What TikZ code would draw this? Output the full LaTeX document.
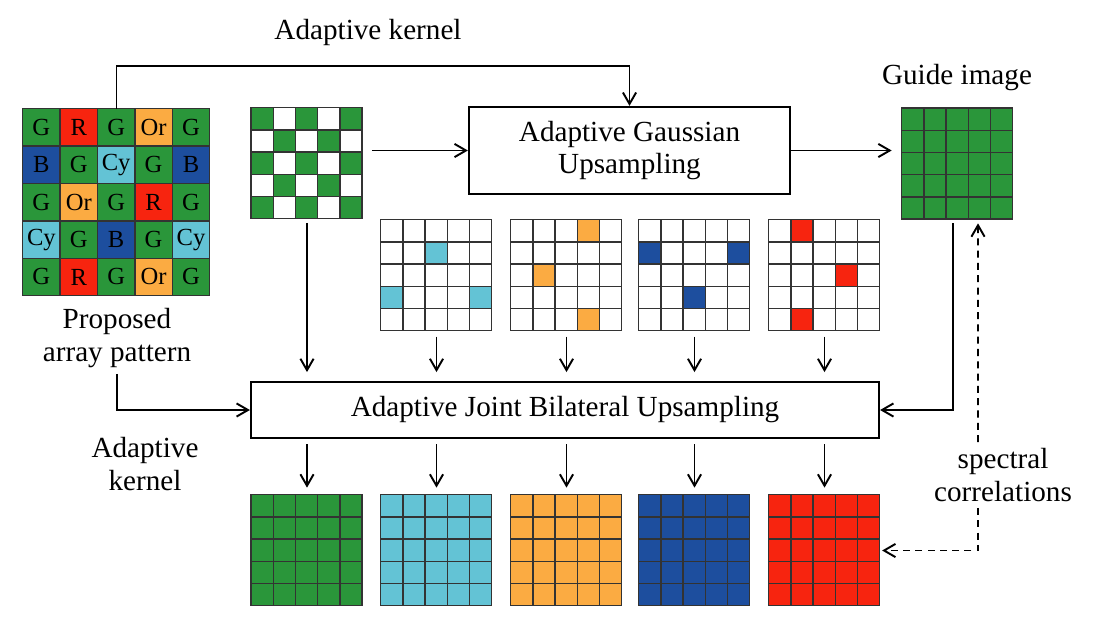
\documentclass[tikz,border=0pt]{standalone}
\usepackage{fontspec}
\setmainfont{Liberation Serif}
\usetikzlibrary{arrows.meta, positioning, calc}
\definecolor{cG}{HTML}{2A963A}
\definecolor{cR}{HTML}{F7240F}
\definecolor{cOr}{HTML}{FBAB42}
\definecolor{cCy}{HTML}{63C3D5}
\definecolor{cB}{HTML}{1D4E9E}
\newcommand{\cellgrid}[3]{%
  \foreach \r in {0,...,4}{\foreach \c in {0,...,4}{%
    \draw[cell, fill=#3] ($(#1.north west)+(\c*#2,\r*#2)$) rectangle +(#2,#2);}}}
\newcommand{\hilite}[4]{%
  \foreach \c/\r in {#4}{%
    \draw[cell, fill=#3] ($(#1.north west)+(\c*#2,\r*#2)$) rectangle +(#2,#2);}}

\begin{document}
\begin{tikzpicture}[
  x=0.02cm, y=-0.02cm,
  proc/.style={draw, line width=1.3pt, font=\fontsize{16.6}{18.7}\selectfont,
    align=center, inner sep=0pt},
  lbl/.style={font=\fontsize{16.6}{18.7}\selectfont, align=center},
  cell/.style={draw=black!80, line width=0.8pt},
  gridbox/.style={minimum width=2.22cm, minimum height=2.22cm, inner sep=0pt},
  flow/.style={-{Straight Barb[length=6.5pt, width=7.5pt]}, line width=1.1pt},
  corr/.style={flow, dashed, dash pattern=on 4pt off 3pt}
]
  \useasboundingbox (0,0) rectangle (1097,629);

  % proposed array
  \node[minimum width=3.74cm, minimum height=3.74cm, inner sep=0pt] (mosaic) at (116.5,202.5) {};
  \foreach \l [count=\i from 0] in {G,R,G,Or,G,B,G,Cy,G,B,G,Or,G,R,G,Cy,G,B,G,Cy,G,R,G,Or,G}{
    \pgfmathtruncatemacro{\c}{mod(\i,5)}
    \pgfmathtruncatemacro{\r}{div(\i,5)}
    \draw[cell, fill=c\l] ($(mosaic.north west)+(\c*37.4,\r*37.4)$) rectangle +(37.4,37.4);
    \node[font=\fontsize{14}{16}\selectfont] at ($(mosaic.north west)+(\c*37.4+18.7,\r*37.4+18.7)$) {\l};
  }
  \node[lbl] (proposed) at (117,338) {Proposed\\array pattern};

  % green samples
  \node[gridbox] (checker) at (307,163.5) {};
  \foreach \r in {0,...,4}{\foreach \c in {0,...,4}{
    \pgfmathtruncatemacro{\k}{mod(\r+\c,2)}
    \ifnum\k=0 \def\fc{cG}\else \def\fc{white}\fi
    \draw[cell, fill=\fc] ($(checker.north west)+(\c*22.2,\r*22.2)$) rectangle +(22.2,22.2);
  }}

  \node[proc, minimum width=6.42cm, minimum height=1.74cm] (gauss) at (629.5,150.5) {Adaptive Gaussian\\Upsampling};

  \node[gridbox] (guide) at (957.5,164) {};
  \cellgrid{guide}{22.2}{cG}
  \node[lbl] (guidelbl) at (957,78) {Guide image};

  % sparse channels
  \foreach \nm/\px in {Cy/436.5, Or/566.5, B/694.5, R/824.5}{
    \node[gridbox] (sp\nm) at (\px,275.5) {};
    \cellgrid{sp\nm}{22.2}{white}
  }
  \hilite{spCy}{22.2}{cCy}{2/1, 0/3, 4/3}
  \hilite{spOr}{22.2}{cOr}{3/0, 1/2, 3/4}
  \hilite{spB}{22.2}{cB}{0/1, 4/1, 2/3}
  \hilite{spR}{22.2}{cR}{1/0, 3/2, 1/4}

  \node[proc, minimum width=12.56cm, minimum height=1.12cm] (joint) at (565,410) {Adaptive Joint Bilateral Upsampling};

  % full channels
  \foreach \nm/\px in {G/307, Cy/436.5, Or/566.5, B/694.5, R/824.5}{
    \node[gridbox] (out\nm) at (\px,550.5) {};
    \cellgrid{out\nm}{22.2}{c\nm}
  }

  \node[lbl] (kerneltop) at (368,32) {Adaptive kernel};
  \node[lbl] (kernelleft) at (145,464) {Adaptive\\kernel};
  \node[lbl] (spec) at (1003,475) {spectral\\correlations};

  % connectors
  \draw[flow] (mosaic.north) -- ++(0,-43) -| (gauss.north);
  \draw[flow] ($(checker.east |- gauss.west)+(9,0)$) -- (gauss.west);
  \draw[flow] (gauss.east) -- ($(guide.west |- gauss.east)+(-10,0)$);
  \draw[flow, shorten <=2pt, shorten >=5pt] (checker.south) -- (checker.south |- joint.north);
  \foreach \nm in {Cy,Or,B,R}{
    \draw[flow, shorten <=3pt, shorten >=5pt] (sp\nm.south) -- (sp\nm.south |- joint.north);
  }
  \foreach \nm in {G,Cy,Or,B,R}{
    \draw[flow, shorten <=3pt, shorten >=4pt] (joint.south -| out\nm.north) -- (out\nm.north);
  }
  \draw[flow] (proposed.south) |- (joint.west);
  \draw[flow, shorten <=2pt] ([xshift=-0.09cm]guide.south) |- (joint.east);
  \draw[corr] ([xshift=-0.5cm]spec.north) -- ([xshift=0.41cm, yshift=-2pt]guide.south);
  \draw[corr, shorten >=1pt] ([xshift=-0.5cm]spec.south) |- (outR.east);
\end{tikzpicture}
\end{document}
